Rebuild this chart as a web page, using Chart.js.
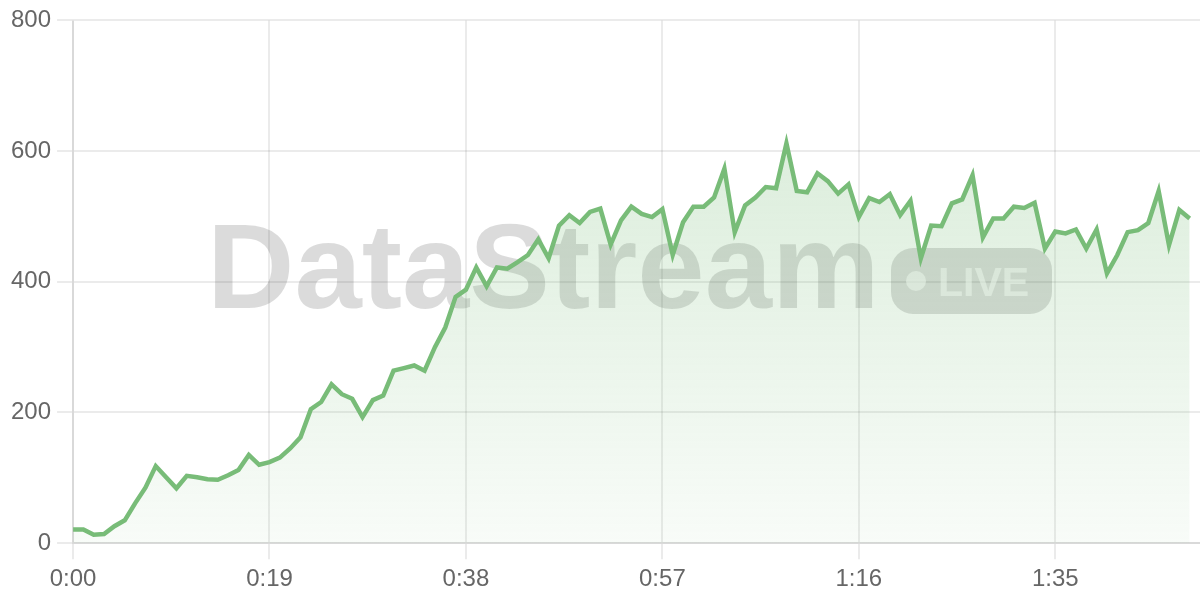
<!DOCTYPE html>
<html>
<head>
<meta charset="utf-8">
<title>DataStream live</title>
<script src="https://cdn.jsdelivr.net/npm/chart.js@4/dist/chart.umd.min.js"></script>
<style>
  html, body { margin: 0; padding: 0; background: #fff; }
  #wrap { width: 1200px; height: 600px; }
</style>
</head>
<body>
<div id="wrap"><canvas id="graficoStream" width="1200" height="600"></canvas></div>
<script>
// valores por segundo (0:00 .. 1:48)
const valores = [
  21, 21, 13, 14, 26, 35, 61, 85, 118, 101,
  84, 103, 101, 98, 97, 104, 112, 135, 120, 124,
  131, 145, 162, 205, 216, 243, 228, 221, 193, 219,
  226, 264, 268, 272, 264, 300, 330, 377, 388, 422,
  393, 422, 420, 430, 441, 465, 436, 486, 502, 490,
  507, 512, 457, 494, 515, 504, 499, 511, 441, 491,
  515, 515, 529, 573, 476, 517, 529, 545, 543, 612,
  539, 537, 566, 554, 535, 549, 499, 528, 522, 534,
  502, 524, 436, 486, 485, 520, 526, 563, 468, 497,
  497, 515, 513, 521, 451, 477, 474, 480, 451, 480,
  413, 441, 476, 479, 490, 539, 456, 510, 497
];
const segundos = valores.map((v, i) => i);

const ticksX = [0, 19, 38, 57, 76, 95];
const etiquetasX = ['0:00', '0:19', '0:38', '0:57', '1:16', '1:35'];
const ticksY = [0, 200, 400, 600, 800];

const verde = 'rgb(120, 188, 120)';
const rejilla = 'rgba(0,0,0,0.08)';

const marcaAgua = {
  id: 'marcaAgua',
  beforeDatasetsDraw(chart) {
    const ctx = chart.ctx;
    ctx.save();
    ctx.fillStyle = 'rgba(0,0,0,0.14)';
    ctx.font = 'bold 121px "Liberation Sans", Arial, sans-serif';
    ctx.textBaseline = 'alphabetic';
    ctx.textAlign = 'left';
    ctx.fillText('DataStream', 207, 308);

    // badge LIVE
    ctx.beginPath();
    ctx.roundRect(891, 248, 161, 66, 22);
    ctx.fill();
    ctx.fillStyle = 'rgba(255,255,255,0.6)';
    ctx.beginPath();
    ctx.arc(916, 281, 10, 0, Math.PI * 2);
    ctx.fill();
    ctx.font = 'bold 41px "Liberation Sans", Arial, sans-serif';
    ctx.fillText('LIVE', 938, 296);
    ctx.restore();
  }
};

const ctxStream = document.getElementById('graficoStream');
new Chart(ctxStream, {
  type: 'line',
  data: {
    labels: segundos,
    datasets: [{
      label: 'Stream',
      data: valores,
      borderColor: verde,
      borderWidth: 4.5,
      pointRadius: 0,
      tension: 0,
      fill: 'origin',
      backgroundColor: (c) => {
        const area = c.chart.chartArea;
        if (!area) return 'rgba(120,188,120,0.15)';
        const g = c.chart.ctx.createLinearGradient(0, area.top, 0, area.bottom);
        g.addColorStop(0, 'rgba(120,188,120,0.32)');
        g.addColorStop(1, 'rgba(120,188,120,0.05)');
        return g;
      }
    }]
  },
  options: {
    responsive: false,
    animation: false,
    devicePixelRatio: 1,
    layout: { padding: { left: 5, top: 6, right: 0, bottom: 0 } },
    plugins: {
      legend: { display: false },
      tooltip: { enabled: false }
    },
    scales: {
      x: {
        type: 'linear',
        min: 0,
        max: 109,
        afterBuildTicks: (scale) => { scale.ticks = ticksX.map(v => ({ value: v })); },
        grid: { color: rejilla, lineWidth: 2, tickLength: 16 },
        border: { color: rejilla, width: 2 },
        ticks: {
          padding: 6,
          color: '#666',
          font: { size: 24, family: '"Liberation Sans", Arial, sans-serif' },
          maxRotation: 0,
          callback: (v, i) => etiquetasX[i]
        }
      },
      y: {
        min: 0,
        max: 800,
        afterBuildTicks: (scale) => { scale.ticks = ticksY.map(v => ({ value: v })); },
        grid: { color: rejilla, lineWidth: 2, tickLength: 16 },
        border: { color: rejilla, width: 2 },
        ticks: {
          padding: 6,
          color: '#666',
          font: { size: 24, family: '"Liberation Sans", Arial, sans-serif' }
        }
      }
    }
  },
  plugins: [marcaAgua]
});
</script>
</body>
</html>
